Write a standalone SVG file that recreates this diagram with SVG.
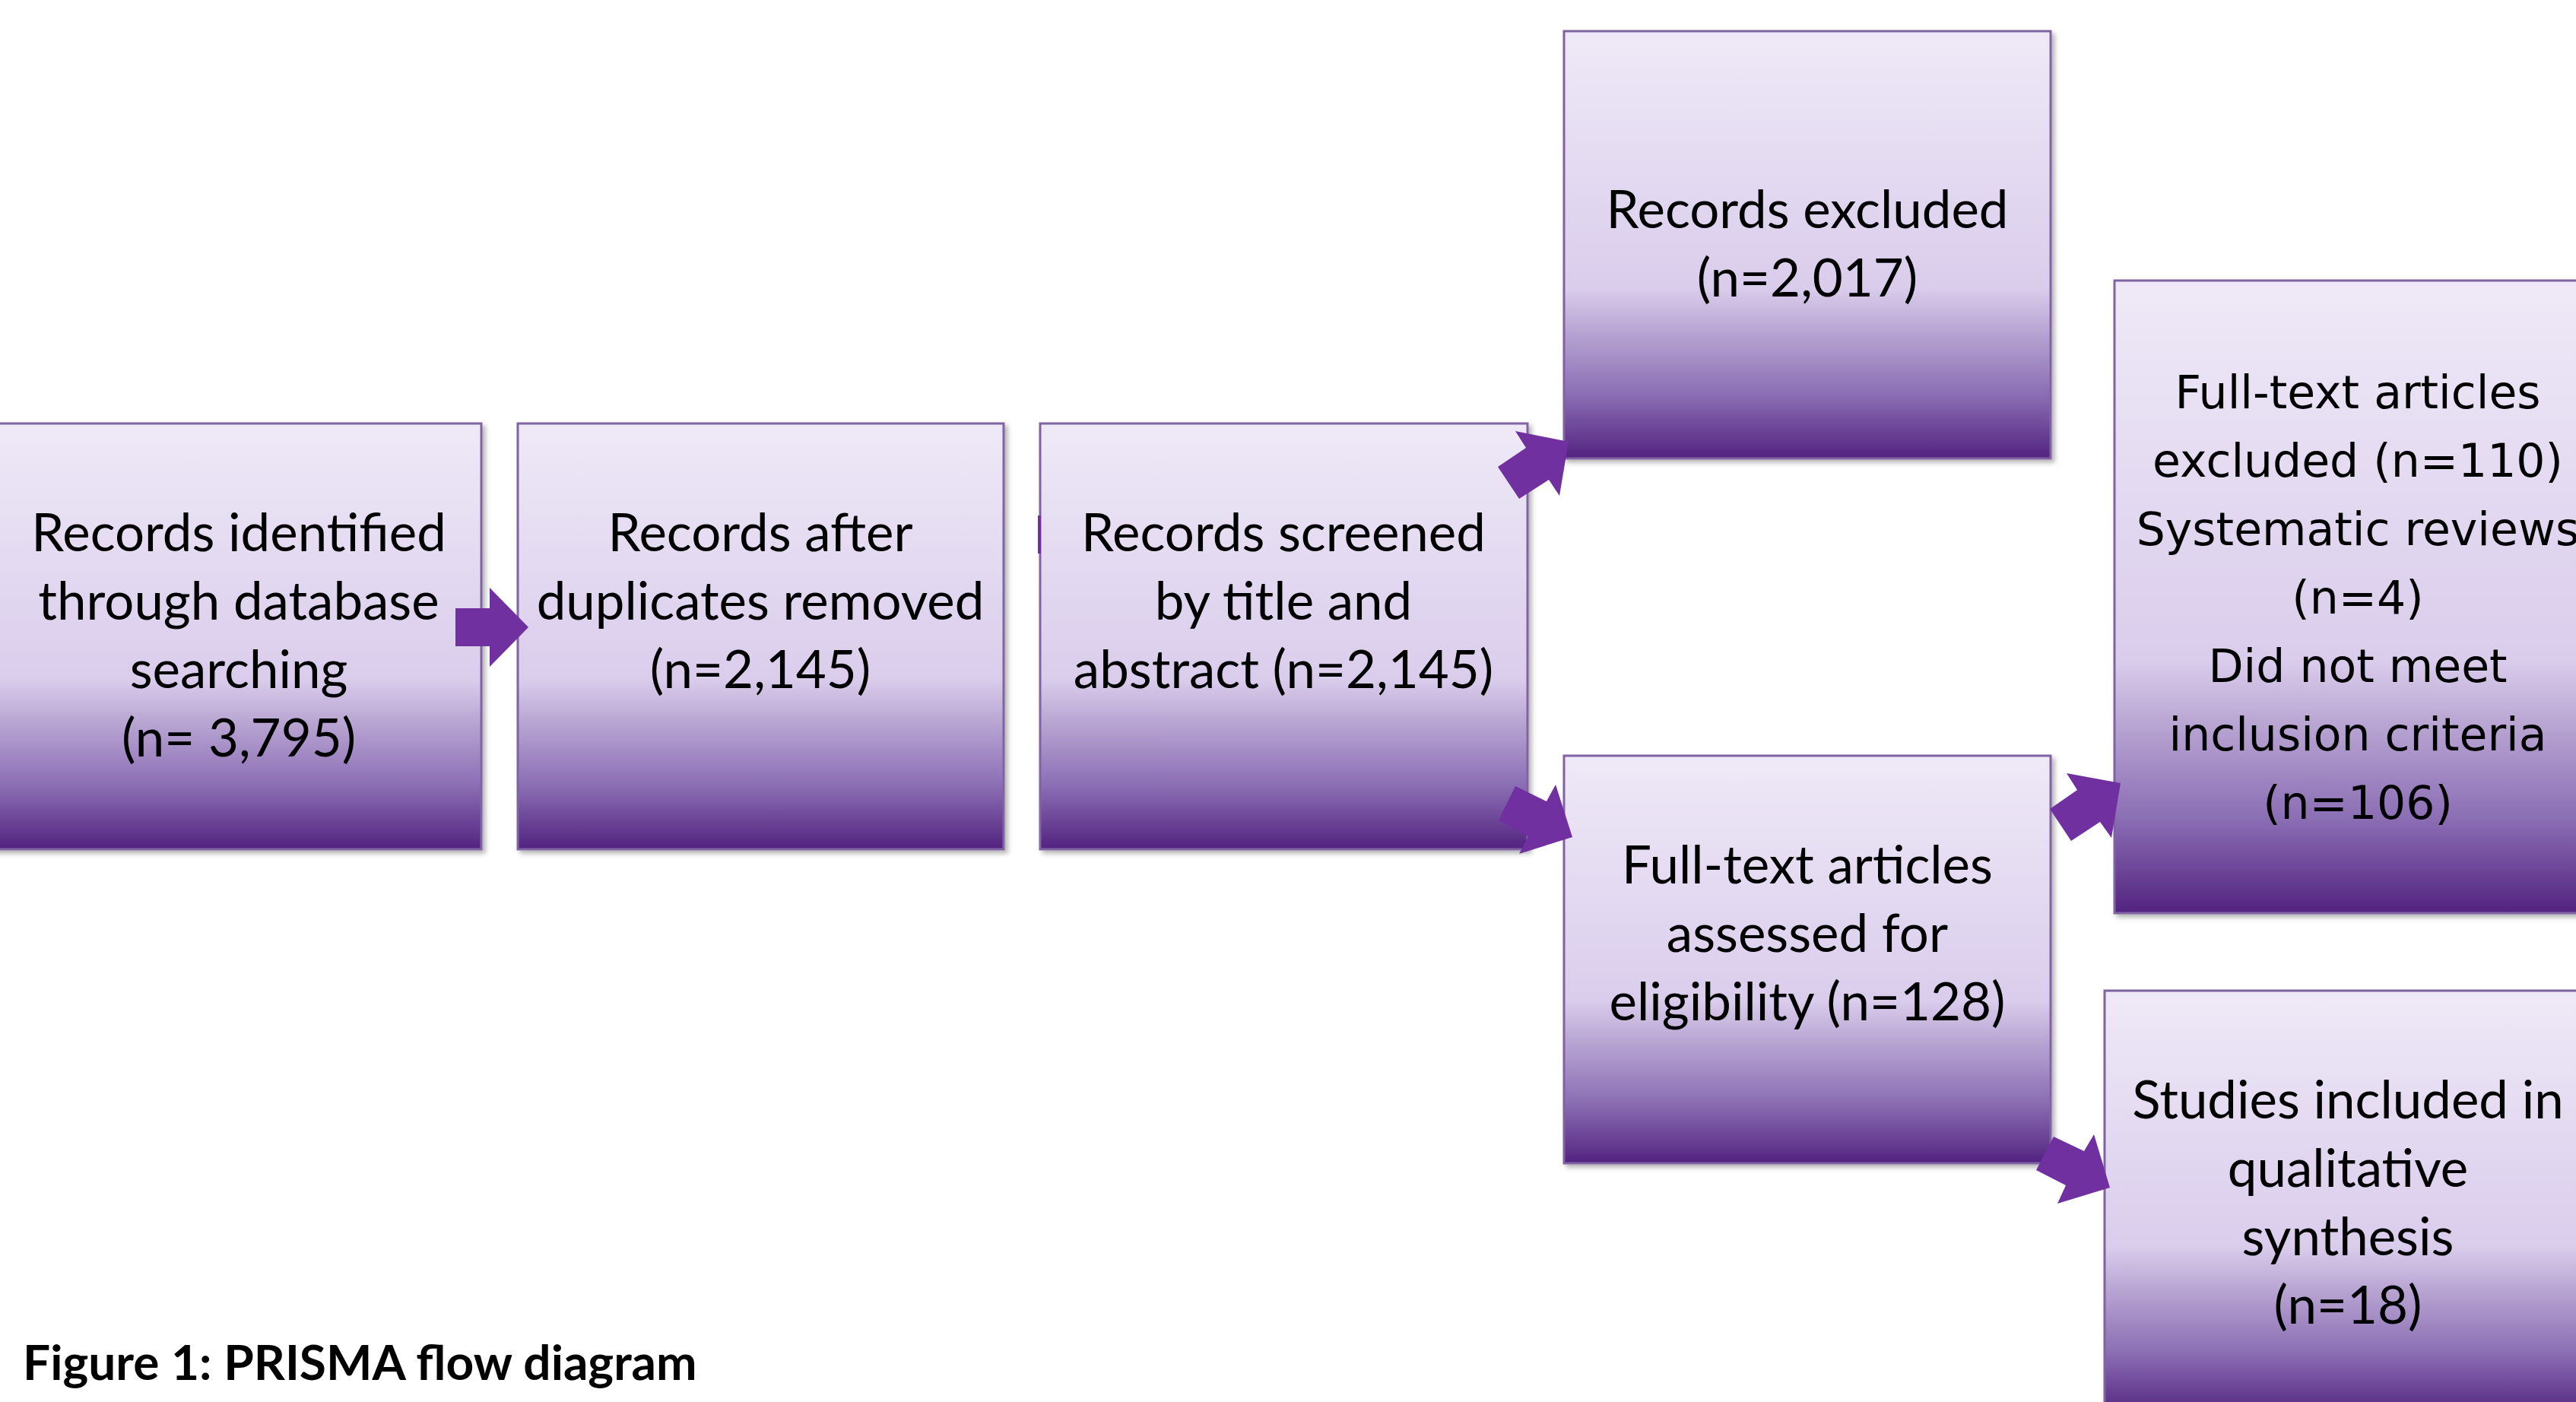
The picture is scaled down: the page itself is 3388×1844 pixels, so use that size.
<svg xmlns="http://www.w3.org/2000/svg" width="3388" height="1844" viewBox="0 0 3388 1844">
<style>
.box{stroke:#8064A2;stroke-width:3;fill:url(#g);filter:url(#sh)}
.t{font-family:Lato,"Open Sans","Liberation Sans",sans-serif;font-size:69px;fill:#000;text-anchor:middle}
.t2{font-family:"DejaVu Sans",Verdana,sans-serif;font-size:60px;fill:#000;text-anchor:middle}
.arr{fill:#7030A0}
.cap{font-family:Lato,"Liberation Sans",sans-serif;font-weight:bold;font-size:64px;fill:#000}
</style>
<defs>
<linearGradient id="g" x1="0" y1="0" x2="0" y2="1">
<stop offset="0" stop-color="#EFE9F7"/>
<stop offset="0.6" stop-color="#DACDEC"/>
<stop offset="0.7" stop-color="#B9A6D3"/>
<stop offset="0.85" stop-color="#8B6EB4"/>
<stop offset="1" stop-color="#52237F"/>
</linearGradient>
<filter id="sh" x="-5%" y="-5%" width="115%" height="115%">
<feDropShadow dx="4" dy="4" stdDeviation="3" flood-color="#000" flood-opacity="0.3"/>
</filter>
</defs>
<rect width="3388" height="1844" fill="#fff"/>
<g id="n1"><rect class="box" x="-20" y="557" width="653" height="560"/>
<text class="t"><tspan x="314" y="725">Records identified</tspan><tspan x="314" y="815">through database</tspan><tspan x="314" y="905">searching</tspan><tspan x="314" y="995">(n= 3,795)</tspan></text></g>
<g id="n2"><rect class="box" x="681" y="557" width="639" height="560"/>
<text class="t"><tspan x="1000" y="725">Records after</tspan><tspan x="1000" y="815">duplicates removed</tspan><tspan x="1000" y="905">(n=2,145)</tspan></text></g>
<g id="n3"><rect class="box" x="1368" y="557" width="641" height="560"/>
<text class="t"><tspan x="1688" y="725">Records screened</tspan><tspan x="1688" y="815">by title and</tspan><tspan x="1688" y="905">abstract (n=2,145)</tspan></text></g>
<g id="n4"><rect class="box" x="2057" y="41" width="640" height="562"/>
<text class="t"><tspan x="2377" y="300">Records excluded</tspan><tspan x="2377" y="390">(n=2,017)</tspan></text></g>
<g id="n5"><rect class="box" x="2057" y="994" width="640" height="536"/>
<text class="t"><tspan x="2377" y="1162">Full-text articles</tspan><tspan x="2377" y="1252">assessed for</tspan><tspan x="2377" y="1342">eligibility (n=128)</tspan></text></g>
<g id="n6"><rect class="box" x="2781" y="369" width="640" height="832"/>
<text class="t2"><tspan x="3101" y="537">Full-text articles</tspan><tspan x="3101" y="627">excluded (n=110)</tspan><tspan x="3101" y="717">Systematic reviews</tspan><tspan x="3101" y="807">(n=4)</tspan><tspan x="3101" y="897">Did not meet</tspan><tspan x="3101" y="987">inclusion criteria</tspan><tspan x="3101" y="1077">(n=106)</tspan></text></g>
<g id="n7"><rect class="box" x="2768" y="1303" width="640" height="560"/>
<text class="t"><tspan x="3088" y="1471">Studies included in</tspan><tspan x="3088" y="1561">qualitative</tspan><tspan x="3088" y="1651">synthesis</tspan><tspan x="3088" y="1741">(n=18)</tspan></text></g>
<g id="connectors">
<polygon class="arr" points="599,800 644,800 644,773 695,825 644,877 644,850 599,850"/>
<rect class="arr" x="1365" y="678" width="4" height="50"/>
<polygon class="arr" points="1970,614 2007,589 1993,567 2063,581 2051,652 2037,631 1998,656"/>
<polygon class="arr" points="1971,1079 1993,1034 2034,1054 2046,1032 2068,1101 1998,1123 2010,1100"/>
<polygon class="arr" points="2696,1064 2732,1039 2718,1017 2789,1030 2777,1102 2762,1081 2724,1106"/>
<polygon class="arr" points="2678,1539 2701,1495 2741,1514 2754,1492 2775,1562 2706,1583 2717,1559"/>
</g>
<text class="cap" x="30" y="1815">Figure 1: PRISMA flow diagram</text>
</svg>
